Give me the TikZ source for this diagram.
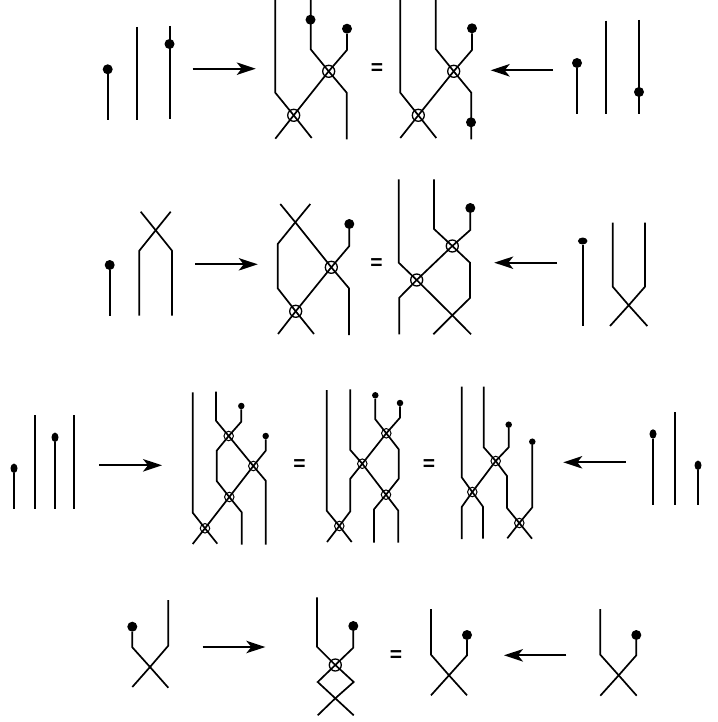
\documentclass[tikz,border=0pt]{standalone}
\usepackage{tikz}
\usepackage{fontspec}
\setmainfont{Liberation Sans}
\usetikzlibrary{arrows.meta,shapes.geometric}

\begin{document}
\begin{tikzpicture}[
        x=1pt, y=-1pt,
        wire/.style={line width=1.7pt},
        dotnode/.style={circle, fill=black, inner sep=0pt, minimum size=10pt},
        tinydot/.style={circle, fill=black, inner sep=0pt, minimum size=6.5pt},
        talldot/.style={ellipse, fill=black, inner sep=0pt, minimum width=7pt, minimum height=9.5pt},
        widedot/.style={ellipse, fill=black, inner sep=0pt, minimum width=9.5pt, minimum height=7pt},
        crossnode/.style={circle, draw=black, line width=1.3pt, inner sep=0pt, minimum size=12pt},
        tinycross/.style={circle, draw=black, line width=1pt, inner sep=0pt, minimum size=9.5pt},
        arrow/.style={-{Stealth[length=19pt, width=12.5pt, inset=5pt]}, line width=1.7pt},
        eqnode/.style={inner sep=0pt, font=\bfseries\fontsize{21}{21}\selectfont}
    ]
        \useasboundingbox (0,0) rectangle (717,722);

        % named points of every row
        \foreach \n/\x/\y in {
            a1/107.7/120, a2/137/27, a3/137/120, a4/169.7/26, a5/169.7/119.5,
            b1/275.3/0, b2/275.3/92.7, b3/311.7/138, b4/310.7/0, b5/310.7/49.3, b6/346.7/92.7, b7/346.7/139.3, b8/347/50, b9/275.3/138.7,
            c1/400.3/0, c2/400.3/92.7, c3/436.3/138, c4/435.7/0, c5/435.7/49, c6/471.3/92.7, c7/471.3/139.3, c8/472/50, c9/400.3/138,
            d1/577/113.7, d2/606.3/20.7, d3/606.3/113.7, d4/639/20, d5/639/113.7,
            e1/109.7/315.7, e2/139.3/315.7, e3/139.3/250.7, e4/155.7/230.3, e5/170.7/211.7, e6/172/315.7, e7/172/250.7, e8/140.7/211.7,
            f1/295.3/222.3, f2/280.3/204, f3/310.3/204, f4/277.7/244, f5/277.7/288.3, f6/314/334, f7/349/288.3, f8/349/335, f9/349.3/246, f10/278/334,
            g1/398.7/179.3, g2/398.7/262.7, g3/452.3/315.3, g4/471/334.3, g5/434/179.3, g6/434/229, g7/470/262.7, g8/470/298, g9/433.3/334.3, g10/470.3/230, g11/399.3/297.7, g12/399.3/334.3,
            h1/582.7/325.7, h2/612.7/222.7, h3/612.7/286.7, h4/628.7/305.3, h5/647.3/326, h6/645/222.7, h7/645/286.7, h8/610/326
        } \coordinate (\n) at (\x,\y);
        \foreach \n/\x/\y in {
            i1/14/508.7, i2/35/415, i3/35/508.7, i4/55/508.7, i5/73.7/415, i6/73.7/508.7,
            j1/192.7/392.3, j2/192.7/512.7, j3/217.3/543.7, j4/216/391.7, j5/216/420.7, j6/265.7/480.7, j7/265.7/544.7, j8/241.3/421.7, j9/216.7/450.7, j10/216.7/481, j11/241.7/512.3, j12/241.7/544.7, j13/265.7/450.7, j14/192.7/544,
            k1/326.7/390, k2/326.7/510.7, k3/351.7/542, k4/350.3/389.3, k5/350.3/450, k6/398.3/510.7, k7/398.3/542.7, k8/375.3/419.3, k9/350.3/478.7, k10/350.3/511.3, k11/327/542, k12/400/417.7, k13/398.7/449.3, k14/398.7/478.7, k15/374/509.3, k16/374/542.7,
            l1/461.7/386.7, l2/461.7/477.3, l3/483/506.7, l4/483/538.7, l5/483.7/386.7, l6/483.7/447.3, l7/507/476, l8/507/508, l9/532/538.7, l10/508.7/447.3, l11/461.7/507, l12/461.7/539, l13/532.3/507.3, l14/507.3/538.3,
            m1/653/505.3, m2/675.3/412.3, m3/675.3/505.3, m4/698/505.3,
            n1/132.3/647.3, n2/150/667, n3/168.3/687.7, n4/168.3/600, n5/168.3/645.7, n6/132.3/687,
            o1/317/597.3, o2/317/646.7, o3/353.7/682, o4/335.3/698.3, o5/317.7/715.3, o6/353.3/647.7, o7/317.7/682, o8/353.7/715.3,
            p1/431/609, p2/431/654.7, p3/449/675.3, p4/467/695.3, p5/467/655.3, p6/431/695.3,
            q1/600.3/609, q2/600.3/654.7, q3/618.7/675.3, q4/636.7/695.7, q5/636.3/655.3, q6/600.3/695.7
        } \coordinate (\n) at (\x,\y);

        % arrows
        \foreach \n/\xa/\xb/\y in {
            ra/192.7/255.7/68.7, rb/553/490.7/70.3,
            rc/195/257.7/264.3, rd/557/494.3/262.7,
            re/99/162/465.3, rf/625.7/563.3/462.3,
            rg/202.7/265.3/647, rh/566.3/504/655.3
        } {
            \coordinate (\n s) at (\xa,\y);
            \coordinate (\n e) at (\xb,\y);
            \draw[arrow] (\n s) -- (\n e);
        }

        % equal signs
        \foreach \n/\x/\y in {
            eqa/377/69, eqb/376.5/263.7, eqc/299.5/464.7, eqd/429/465.3, eqe/396/655.7
        } \node[eqnode] (\n) at (\x,\y) {=};

        % circled crossings
        \foreach \n/\x/\y in {
            bxa/293.7/115.3, bxb/328.7/71.3,
            cxa/418.3/115.3, cxb/453.7/71.3,
            fxa/295.7/311.3, fxb/331.3/267.3,
            gxa/416.7/280, gxb/452.3/246,
            oxa/335.3/665
        } \node[crossnode] (\n) at (\x,\y) {};
        \foreach \n/\x/\y in {
            jxa/205/528.3, jxb/228.7/436, jxc/253.3/466, jxd/229.3/497,
            kxa/339.3/526, kxb/362.3/463.7, kxc/386/494.7, kxd/386.3/433.3,
            lxa/472.3/492, lxb/495.7/461, lxc/519.3/523
        } \node[tinycross] (\n) at (\x,\y) {};

        % end dots
        \foreach \n/\x/\y in {
            ad1/107.7/69.3, ad2/169.5/44, bd1/310.5/19.7, bd2/347/28.7,
            cd1/472/28.3, cd2/471/122.3, dd1/577/63, dd2/639/92,
            ed1/109.7/265, fd1/349.3/224, gd1/470.3/208,
            nd1/132.3/626.7, od1/353.3/626, pd1/467/635, qd1/636.3/635
        } \node[dotnode] (\n) at (\x,\y) {};
        \foreach \n/\x/\y in {
            jd1/241.3/406, jd2/265.7/436, kd1/375.3/395.3, kd2/400/403, ld1/508.7/424.7, ld2/532.3/441.7
        } \node[tinydot] (\n) at (\x,\y) {};
        \foreach \n/\x/\y in {
            id1/14/468.3, id2/55/437.3, md1/653/434, md2/698/465.3
        } \node[talldot] (\n) at (\x,\y) {};
        \node[widedot] (hd1) at (582.7,241) {};

        % first row
        \draw[wire] (ad1) -- (a1);
        \draw[wire] (a2) -- (a3);
        \draw[wire] (a4) -- (a5);
        \draw[wire] (b1) -- (b2) -- (bxa.center) -- (b3);
        \draw[wire] (b4) -- (b5) -- (bxb.center) -- (b6) -- (b7);
        \draw[wire] (bd2) -- (b8) -- (bxb.center) -- (bxa.center) -- (b9);
        \draw[wire] (c1) -- (c2) -- (cxa.center) -- (c3);
        \draw[wire] (c4) -- (c5) -- (cxb.center) -- (c6) -- (c7);
        \draw[wire] (cd1) -- (c8) -- (cxb.center) -- (cxa.center) -- (c9);
        \draw[wire] (dd1) -- (d1);
        \draw[wire] (d2) -- (d3);
        \draw[wire] (d4) -- (d5);

        % second row
        \draw[wire] (ed1) -- (e1);
        \draw[wire] (e2) -- (e3) -- (e4) -- (e5);
        \draw[wire] (e6) -- (e7) -- (e4) -- (e8);
        \draw[wire] (f3) -- (f1) -- (f4) -- (f5) -- (fxa.center) -- (f6);
        \draw[wire] (f2) -- (f1) -- (fxb.center) -- (f7) -- (f8);
        \draw[wire] (fd1) -- (f9) -- (fxb.center) -- (fxa.center) -- (f10);
        \draw[wire] (g1) -- (g2) -- (gxa.center) -- (g3) -- (g4);
        \draw[wire] (g5) -- (g6) -- (gxb.center) -- (g7) -- (g8) -- (g3) -- (g9);
        \draw[wire] (gd1) -- (g10) -- (gxb.center) -- (gxa.center) -- (g11) -- (g12);
        \draw[wire] (hd1) -- (h1);
        \draw[wire] (h2) -- (h3) -- (h4) -- (h5);
        \draw[wire] (h6) -- (h7) -- (h4) -- (h8);

        % third row
        \draw[wire] (id1) -- (i1);
        \draw[wire] (i2) -- (i3);
        \draw[wire] (id2) -- (i4);
        \draw[wire] (i5) -- (i6);
        \draw[wire] (j1) -- (j2) -- (jxa.center) -- (j3);
        \draw[wire] (j4) -- (j5) -- (jxb.center) -- (jxc.center) -- (j6) -- (j7);
        \draw[wire] (jd1) -- (j8) -- (jxb.center) -- (j9) -- (j10) -- (jxd.center) -- (j11) -- (j12);
        \draw[wire] (jd2) -- (j13) -- (jxc.center) -- (jxd.center) -- (jxa.center) -- (j14);
        \draw[wire] (k1) -- (k2) -- (kxa.center) -- (k3);
        \draw[wire] (k4) -- (k5) -- (kxb.center) -- (kxc.center) -- (k6) -- (k7);
        \draw[wire] (kd1) -- (k8) -- (kxd.center) -- (kxb.center) -- (k9) -- (k10) -- (kxa.center) -- (k11);
        \draw[wire] (kd2) -- (k12) -- (kxd.center) -- (k13) -- (k14) -- (kxc.center) -- (k15) -- (k16);
        \draw[wire] (l1) -- (l2) -- (lxa.center) -- (l3) -- (l4);
        \draw[wire] (l5) -- (l6) -- (lxb.center) -- (l7) -- (l8) -- (lxc.center) -- (l9);
        \draw[wire] (ld1) -- (l10) -- (lxb.center) -- (lxa.center) -- (l11) -- (l12);
        \draw[wire] (ld2) -- (l13) -- (lxc.center) -- (l14);
        \draw[wire] (md1) -- (m1);
        \draw[wire] (m2) -- (m3);
        \draw[wire] (md2) -- (m4);

        % fourth row
        \draw[wire] (nd1) -- (n1) -- (n2) -- (n3);
        \draw[wire] (n4) -- (n5) -- (n2) -- (n6);
        \draw[wire] (o1) -- (o2) -- (oxa.center) -- (o3) -- (o4) -- (o5);
        \draw[wire] (od1) -- (o6) -- (oxa.center) -- (o7) -- (o4) -- (o8);
        \draw[wire] (p1) -- (p2) -- (p3) -- (p4);
        \draw[wire] (pd1) -- (p5) -- (p3) -- (p6);
        \draw[wire] (q1) -- (q2) -- (q3) -- (q4);
        \draw[wire] (qd1) -- (q5) -- (q3) -- (q6);
    \end{tikzpicture}
\end{document}
